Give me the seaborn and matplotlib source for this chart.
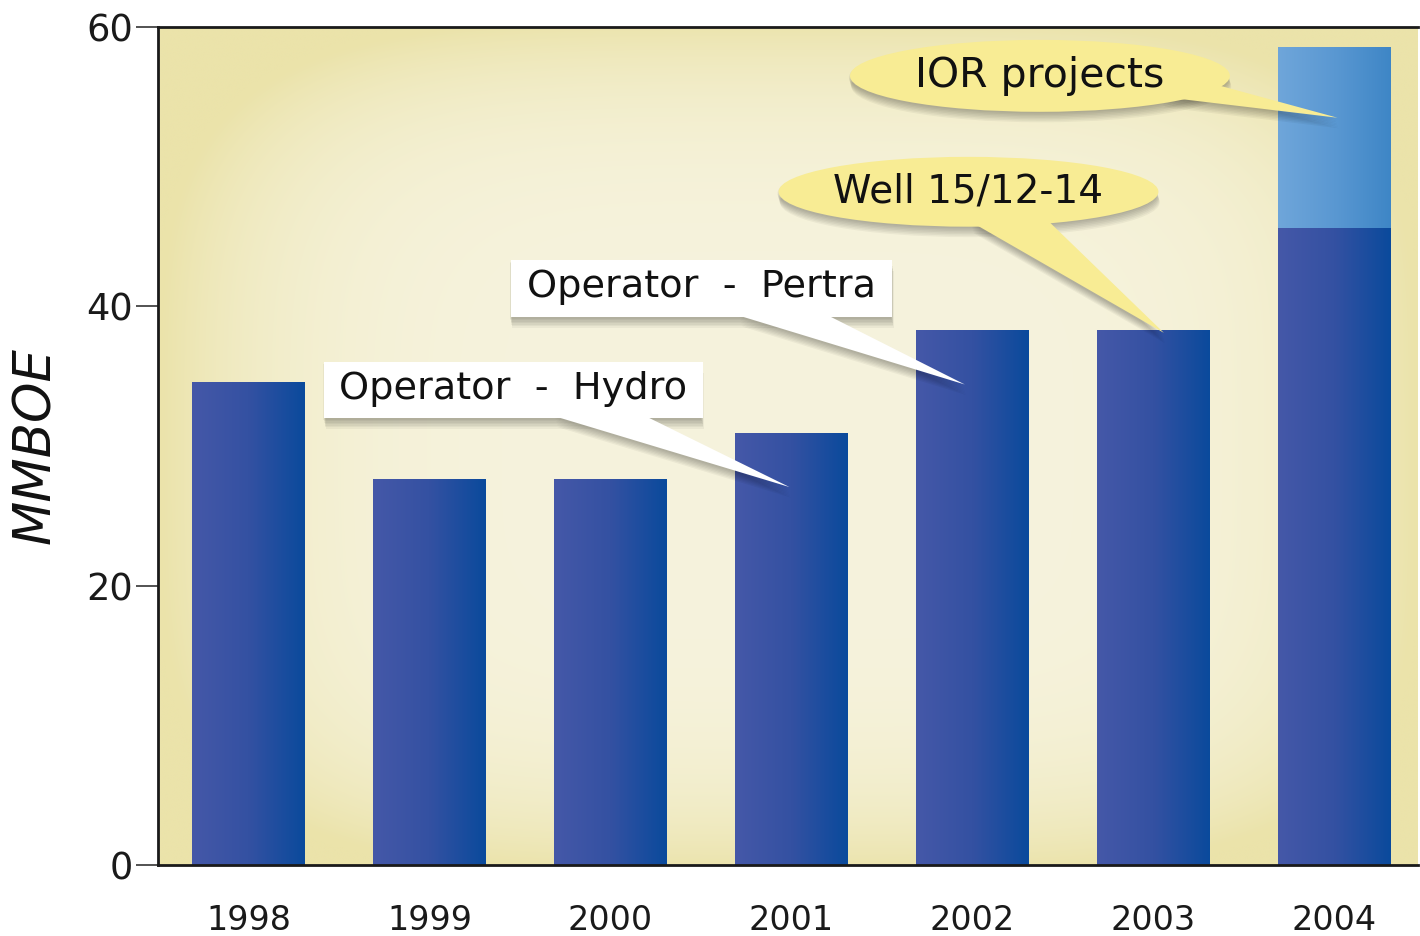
import numpy as np
import pandas as pd
import seaborn as sns
import matplotlib.pyplot as plt
import matplotlib.transforms as mtrans
from matplotlib.patches import Polygon, Ellipse, Rectangle
from matplotlib.colors import LinearSegmentedColormap

# values (MMBOE)
years = ['1998', '1999', '2000', '2001', '2002', '2003', '2004']
base_vals = [34.6, 27.6, 27.6, 30.9, 38.3, 38.3, 45.6]
ior_vals = [0, 0, 0, 0, 0, 0, 13.0]
totals = [b + i for b, i in zip(base_vals, ior_vals)]

sns.set_theme(style='white')
plt.rcParams['font.family'] = ['DejaVu Sans']

fig = plt.figure(figsize=(14.2, 9.36), dpi=100)
ax = fig.add_axes([0.1113, 0.0759, 0.8873, 0.8953])

df = pd.DataFrame({'year': years, 'base': base_vals, 'total': totals})
sns.barplot(data=df, x='year', y='total', color='#5a98d4', width=0.62,
            saturation=1, ax=ax, zorder=2)
sns.barplot(data=df, x='year', y='base', color='#2a4fa0', width=0.62,
            saturation=1, ax=ax, zorder=3)

ax.set_xlim(-0.5, 6.465)
ax.set_ylim(0, 60)

# background: pale yellow, lighter in the middle, more yellow toward the edges
nx, ny = 400, 260
gx, gy = np.meshgrid(np.linspace(-1, 1, nx), np.linspace(-1, 1, ny))
r = (np.abs(gx) ** 4 + np.abs(gy * 0.98) ** 4) ** 0.25
d = np.clip(r, 0, 1) ** 5
c_in = np.array([246, 243, 221]) / 255
c_out = np.array([235, 227, 170]) / 255
bg = c_in[None, None, :] * (1 - d[..., None]) + c_out[None, None, :] * d[..., None]
ax.imshow(bg, extent=(-0.5, 6.465, 0, 60), aspect='auto', zorder=0,
          interpolation='bicubic')

# horizontal gradient inside the bars
dark_cmap = LinearSegmentedColormap.from_list('d', ['#4558a8', '#3451a2', '#0a4a9c'])
light_cmap = LinearSegmentedColormap.from_list('l', ['#6fa6da', '#5a98d2', '#3e86c6'])
grad = np.linspace(0, 1, 256)[None, :]
n = len(years)
for k, p in enumerate(ax.patches):
    if p.get_height() <= 0:
        continue
    cmap = light_cmap if k < n else dark_cmap
    x0, y0 = p.get_x(), p.get_y()
    im = ax.imshow(grad, cmap=cmap, extent=(x0, x0 + p.get_width(), y0, y0 + p.get_height()),
                   aspect='auto', zorder=p.get_zorder() + 0.5)
    im.set_clip_path(p)
    p.set_edgecolor('none')

ax.set_xlim(-0.5, 6.465)
ax.set_ylim(0, 60)


def shadowed(make, zorder):
    # soft shadow made from a few faded offset copies
    for s in range(1, 8):
        off = mtrans.offset_copy(ax.transData, fig=fig, x=-1.5 + s * 0.4, y=-s * 1.5, units='dots')
        sh = make()
        sh.set_transform(off)
        sh.set_facecolor('black')
        sh.set_edgecolor('none')
        sh.set_alpha(0.045)
        sh.set_zorder(zorder - 0.2)
        ax.add_patch(sh)
    main = make()
    main.set_zorder(zorder)
    ax.add_patch(main)


# white boxes
def box_callout(x0, x1, y0, y1, base, tip, text, z):
    shadowed(lambda: Rectangle((x0, y0), x1 - x0, y1 - y0, facecolor='white', edgecolor='none'), z)
    shadowed(lambda: Polygon([base[0], base[1], tip], closed=True, facecolor='white', edgecolor='none'), z)
    ax.text((x0 + x1) / 2, (y0 + y1) / 2 + 0.1, text, ha='center', va='center',
            fontsize=27.5, color='#111111', zorder=z + 1)


box_callout(0.42, 2.51, 32.0, 36.0, [(1.70, 32.1), (2.20, 32.1)], (2.99, 27.06),
            'Operator  -  Hydro', 6)
box_callout(1.45, 3.56, 39.2, 43.3, [(2.72, 39.3), (3.21, 39.3)], (3.96, 34.4),
            'Operator  -  Pertra', 6)


# yellow speech bubbles
def bubble(cx, cy, w, h, poly, text, size, z):
    shadowed(lambda: Ellipse((cx, cy), w, h, facecolor='#f8ec94', edgecolor='none'), z)
    shadowed(lambda: Polygon(poly, closed=True, facecolor='#f8ec94', edgecolor='none'), z)
    ax.text(cx, cy, text, ha='center', va='center', fontsize=size,
            color='#111111', zorder=z + 1)


bubble(3.98, 48.2, 2.10, 5.0, [(4.0, 46.0), (4.43, 46.0), (5.06, 38.1)], 'Well 15/12-14', 28, 8)
bubble(4.375, 56.5, 2.10, 5.15, [(5.05, 55.0), (5.34, 55.9), (6.02, 53.5)], 'IOR projects', 29.5, 8)

# axes styling
for side in ['left', 'bottom', 'top']:
    ax.spines[side].set_visible(True)
    ax.spines[side].set_color('#1a1a1a')
    ax.spines[side].set_linewidth(2)
    ax.spines[side].set_zorder(20)
ax.spines['right'].set_visible(False)

ax.set_yticks([0, 20, 40, 60])
ax.tick_params(axis='y', left=True, length=16, width=1.3, color='#444444',
               labelsize=26.5, pad=2, labelcolor='#1a1a1a')
ax.tick_params(axis='x', bottom=False, labelsize=24, pad=22, labelcolor='#1a1a1a')
ax.set_xlabel('')
ax.set_ylabel('MMBOE', fontsize=37, style='italic', color='#111111', labelpad=18)

fig.savefig('out.png', dpi=100, facecolor='white')
